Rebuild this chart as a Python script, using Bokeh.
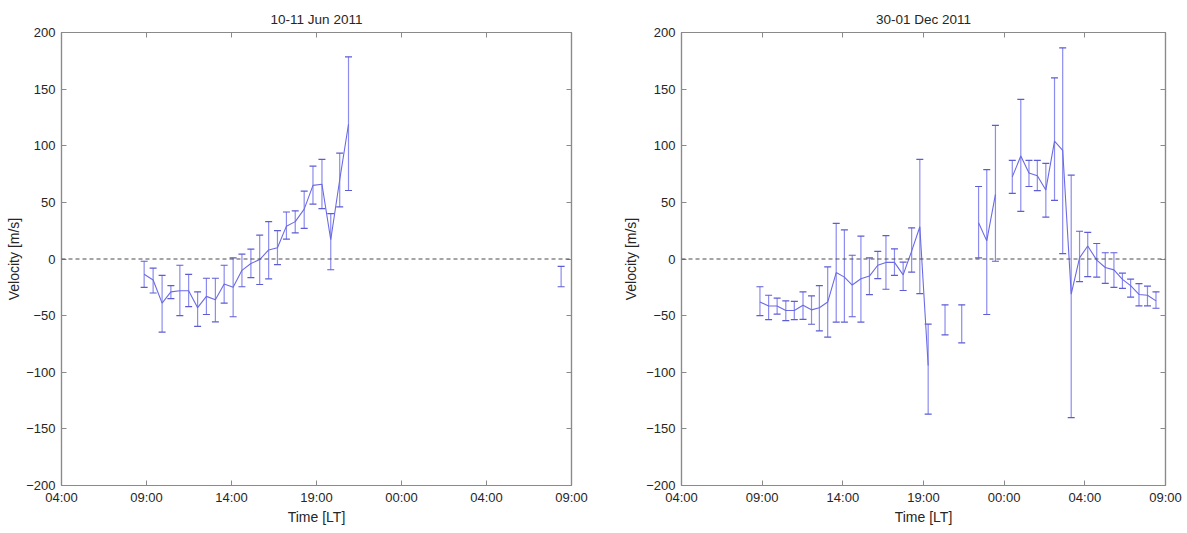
import numpy as np
from bokeh.plotting import figure
from bokeh.models import (ColumnDataSource, Whisker, TeeHead, Span, FixedTicker,
                          LinearAxis, Range1d)
from bokeh.layouts import row
from bokeh.embed import file_html
from bokeh.resources import INLINE

# ---------------- data (hours on the plotted time axis, velocities in m/s) ----------------
TICK_LABELS = ["04:00", "09:00", "14:00", "19:00", "00:00", "04:00", "09:00"]
Y_TICKS = [-200, -150, -100, -50, 0, 50, 100, 150, 200]

jun_title = "10-11 Jun 2011"
jun_time = [8.70, 9.21, 9.72, 10.22, 10.73, 11.23, 11.74, 12.24, 12.75, 13.25, 13.76, 14.26,
            14.77, 15.27, 15.78, 16.28, 16.79, 17.29, 17.80, 18.30, 18.81, 19.31, 19.82, 20.32,
            32.41]
jun_vel = [-13.5, -18.5, -39.0, -29.0, -28.0, -28.0, -43.0, -33.0, -36.0, -22.0, -25.0, -10.0,
           -4.0, -0.5, 8.0, 10.0, 29.0, 33.0, 44.0, 65.0, 66.0, 17.0, 70.0, 119.0,
           -15.5]
jun_low = [-25.0, -30.0, -64.5, -35.0, -50.0, -42.0, -59.5, -49.0, -55.5, -39.0, -51.0, -24.5,
           -16.5, -22.5, -17.5, -5.0, 17.5, 23.0, 27.0, 48.5, 44.5, -9.5, 46.0, 60.5,
           -24.5]
jun_high = [-2.0, -8.0, -14.5, -23.5, -5.5, -13.5, -29.0, -17.0, -17.0, -5.5, 1.0, 4.3,
            8.8, 21.0, 33.0, 25.0, 41.5, 42.5, 60.0, 82.0, 88.0, 40.0, 93.5, 178.5,
            -6.5]

dec_title = "30-01 Dec 2011"
dec_time = [8.70, 9.22, 9.73, 10.25, 10.76, 11.28, 11.79, 12.26, 12.76, 13.27, 13.76, 14.23,
            14.75, 15.26, 15.76, 16.25, 16.76, 17.28, 17.79, 18.28, 18.78,
            19.79, 20.79,
            21.80, 22.29, 22.81,
            23.82, 24.33, 24.82, 25.32, 25.83, 26.35, 26.84, 27.35, 27.85, 28.34, 28.88, 29.39,
            29.91, 30.42, 30.91, 31.41, 31.92, 32.43]
dec_vel = [-38.0, -41.5, -41.5, -45.5, -45.5, -40.8, -44.9, -43.0, -38.0, -12.0, -16.0, -23.0,
           -17.5, -15.1, -5.5, -3.0, -3.0, -14.0, 7.0, 28.5, -94.0,
           -54.0, -57.0,
           32.0, 16.0, 57.0,
           72.5, 91.0, 76.0, 73.5, 61.0, 104.0, 96.0, -31.0, 1.0, 11.5, -1.0, -7.5,
           -9.6, -18.0, -23.5, -31.3, -32.0, -37.0]
dec_low = [-50.0, -53.5, -48.6, -54.5, -53.5, -53.3, -57.6, -63.5, -69.0, -55.7, -55.7, -51.0,
           -55.7, -31.5, -17.4, -26.7, -14.5, -27.8, -11.6, -30.5, -137.0,
           -67.0, -74.0,
           1.0, -49.0, -2.0,
           58.0, 42.0, 64.0, 60.3, 37.0, 51.7, 4.8, -140.0, -20.0, -15.5, -16.0, -21.5,
           -25.0, -26.0, -33.6, -41.4, -41.4, -43.5]
dec_high = [-24.5, -32.0, -34.5, -37.0, -37.5, -29.0, -32.5, -23.5, -7.0, 31.5, 25.7, 3.3,
            20.2, 1.0, 6.8, 20.7, 9.0, -2.8, 27.5, 88.0, -57.5,
            -40.5, -40.5,
            64.0, 79.0, 118.0,
            87.0, 141.0, 87.0, 87.0, 84.5, 160.0, 186.5, 74.0, 24.5, 23.5, 13.7, 5.5,
            5.5, -12.5, -17.7, -21.7, -24.0, -29.0]

# ---------------- styling ----------------
FONT = "Liberation Sans"
TXT = "#262626"
AX = "#8a8a8a"
LINE_C = "#6a6ae6"
BAR_C = "#8c8cf0"
CAP_C = "#5c5cd4"

X0, X1 = 4, 33
TICK_POS = [4, 8.83, 13.67, 18.5, 23.33, 28.17, 33]


def with_breaks(t, v, gap=0.75):
    xs, ys = [], []
    for i in range(len(t)):
        if i > 0 and t[i] - t[i - 1] > gap:
            xs.append(np.nan)
            ys.append(np.nan)
        xs.append(t[i])
        ys.append(v[i])
    return xs, ys


def style_axis(ax, labels=True):
    ax.axis_line_color = AX
    ax.axis_line_width = 1.2
    ax.major_tick_line_color = AX
    ax.major_tick_in = 5
    ax.major_tick_out = 0
    ax.minor_tick_line_color = None
    ax.major_label_text_font = FONT
    if labels:
        ax.major_label_text_color = TXT
        ax.major_label_text_font_size = "13px"
        ax.major_label_standoff = 4
    else:
        ax.major_label_text_color = None
        ax.major_label_text_font_size = "1px"
        ax.major_label_standoff = 0


def make(title, t, v, lo, hi, width, bl, br, ylab_standoff):
    p = figure(width=width, height=527, output_backend="svg", toolbar_location=None,
               x_range=Range1d(X0, X1), y_range=Range1d(-200, 200),
               min_border_left=bl, min_border_right=br, min_border_top=32,
               min_border_bottom=36, title=title)
    p.title.align = "center"
    p.title.text_font = FONT
    p.title.text_font_size = "13.5px"
    p.title.text_font_style = "normal"
    p.title.text_color = TXT
    p.title.standoff = 12
    p.grid.visible = False
    p.outline_line_color = AX
    p.outline_line_width = 1.2
    p.background_fill_color = "white"
    p.border_fill_color = "white"

    overrides = {pos: lab for pos, lab in zip(TICK_POS, TICK_LABELS)}
    xt = FixedTicker(ticks=TICK_POS)
    yt = FixedTicker(ticks=Y_TICKS)

    xa = p.xaxis[0]
    xa.ticker = xt
    xa.major_label_overrides = overrides
    style_axis(xa)
    xa.axis_label = "Time [LT]"
    xa.axis_label_text_font = FONT
    xa.axis_label_text_font_size = "14px"
    xa.axis_label_text_font_style = "normal"
    xa.axis_label_text_color = TXT
    xa.axis_label_standoff = 1

    ya = p.yaxis[0]
    ya.ticker = yt
    style_axis(ya)
    ya.major_label_standoff = 6
    ya.axis_label = "Velocity [m/s]"
    ya.axis_label_text_font = FONT
    ya.axis_label_text_font_size = "14px"
    ya.axis_label_text_font_style = "normal"
    ya.axis_label_text_color = TXT
    ya.axis_label_standoff = ylab_standoff

    top = LinearAxis(ticker=FixedTicker(ticks=TICK_POS))
    style_axis(top, labels=False)
    p.add_layout(top, "above")
    right = LinearAxis(ticker=FixedTicker(ticks=Y_TICKS))
    style_axis(right, labels=False)
    p.add_layout(right, "right")

    p.add_layout(Span(location=0, dimension="width", line_color="#4a4a4a",
                      line_dash="4 3", line_width=1))

    src = ColumnDataSource(dict(t=t, v=v, lo=lo, hi=hi))
    w = Whisker(source=src, base="t", lower="lo", upper="hi", dimension="height",
                line_color=BAR_C, line_width=1.2,
                lower_head=TeeHead(size=7, line_color=CAP_C, line_width=1.2),
                upper_head=TeeHead(size=7, line_color=CAP_C, line_width=1.2))
    p.add_layout(w)

    lx, ly = with_breaks(t, v)
    p.line(lx, ly, line_color=LINE_C, line_width=1.1)
    return p


p1 = make(jun_title, jun_time, jun_vel, jun_low, jun_high, 600, 61, 29, 1)
p2 = make(dec_title, dec_time, dec_vel, dec_low, dec_high, 587, 81, 22, 4)

layout = row(p1, p2)
open("out.html", "w").write(file_html(layout, INLINE))
